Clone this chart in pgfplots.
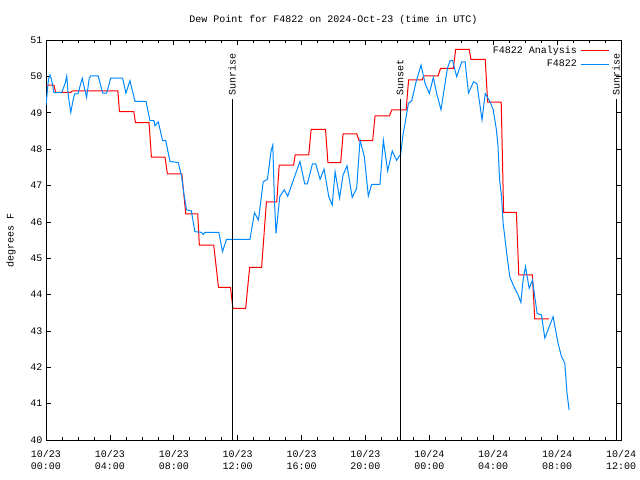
\documentclass[border=0pt]{standalone}
\usepackage{pgfplots}
\pgfplotsset{compat=1.18}
\usepackage{fontspec}
\setmainfont{Liberation Mono}
\definecolor{anred}{RGB}{255,0,0}
\definecolor{obsblue}{RGB}{0,136,255}
\begin{document}
\begin{tikzpicture}[font=\fontsize{10bp}{12bp}\selectfont]
\path[use as bounding box] (0,0) rectangle (640bp,480bp);
\begin{axis}[
  at={(46bp,40bp)}, anchor=south west,
  scale only axis, width=575bp, height=400bp,
  xmin=0, xmax=36, ymin=40, ymax=51,
  xtick={0,4,...,36},
  xticklabels={{10/23\\00:00},{10/23\\04:00},{10/23\\08:00},{10/23\\12:00},{10/23\\16:00},{10/23\\20:00},{10/24\\00:00},{10/24\\04:00},{10/24\\08:00},{10/24\\12:00}},
  xticklabel style={align=center, font=\fontsize{10bp}{12bp}\selectfont, yshift=-7bp},
  minor x tick num=3,
  ytick={40,41,...,51},
  yticklabel style={font=\fontsize{10bp}{12bp}\selectfont},
  /pgf/number format/assume math mode=true,
  tick align=inside,
  major tick length=5bp, minor tick length=3bp,
  axis line style={black, line width=0.8bp},
  tick style={black, line width=0.6bp},
  title={Dew Point for F4822 on 2024-Oct-23 (time in UTC)},
  title style={font=\fontsize{10bp}{12bp}\selectfont, yshift=6bp},
  ylabel={degrees F},
  ylabel style={font=\fontsize{10bp}{12bp}\selectfont, yshift=8bp},
  legend plot pos=right,
  legend cell align=right,
  legend style={draw=none, fill=none, at={(1,1)}, anchor=north east, xshift=-9bp, yshift=-2bp, font=\fontsize{10bp}{12bp}\selectfont, row sep=1bp, inner sep=2bp, nodes={inner xsep=4bp}},
  legend image code/.code={\draw[#1] (0bp,0bp) -- (28bp,0bp);},
  clip=true,
]
\addplot[anred, line width=1bp] coordinates {
(0,49.76) (0.5,49.76) (0.6,49.56) (1.55,49.56) (1.65,49.6) (4.5,49.6) (4.6,49.03) (5.5,49.03) (5.6,48.73) (6.45,48.73) (6.6,47.78) (7.45,47.78) (7.6,47.32) (8.5,47.32) (8.75,46.22) (9.5,46.22) (9.6,45.36) (10.5,45.36) (10.8,44.2) (11.55,44.2) (11.7,43.62) (12.5,43.62) (12.75,44.75) (13.5,44.75) (13.8,46.55) (14.45,46.55) (14.6,47.56) (15.5,47.56) (15.6,47.84) (16.45,47.84) (16.6,48.54) (17.5,48.54) (17.65,47.63) (18.45,47.63) (18.6,48.42) (19.45,48.42) (19.6,48.23) (20.45,48.23) (20.6,48.91) (21.5,48.91) (21.65,49.08) (22.55,49.08) (22.7,49.9) (23.55,49.9) (23.65,50.01) (24.55,50.01) (24.7,50.22) (25.5,50.22) (25.65,50.74) (26.5,50.74) (26.6,50.47) (27.5,50.47) (27.65,49.29) (28.5,49.29) (28.65,46.26) (29.45,46.26) (29.6,44.54) (30.45,44.54) (30.6,43.33) (31.5,43.33)
};
\addlegendentry{F4822 Analysis}
\addplot[obsblue, line width=1bp] coordinates {
(0.0,49.21) (0.15,49.9) (0.25,50.04) (0.35,49.9) (0.5,49.55) (0.98,49.55) (1.2,49.81) (1.3,50.01) (1.4,49.45) (1.55,49.01) (1.72,49.4) (1.8,49.52) (2.0,49.52) (2.27,49.95) (2.54,49.42) (2.71,49.95) (2.8,50.01) (3.27,50.01) (3.55,49.54) (3.8,49.54) (4.05,49.95) (4.8,49.95) (5.0,49.54) (5.26,49.88) (5.57,49.31) (6.26,49.31) (6.51,48.78) (6.76,48.78) (6.82,48.64) (7.03,48.75) (7.3,48.23) (7.5,48.23) (7.76,47.66) (8.28,47.63) (8.49,47.25) (8.63,46.78) (8.8,46.33) (9.1,46.3) (9.32,45.73) (9.74,45.71) (9.84,45.65) (9.95,45.71) (10.82,45.71) (11.05,45.18) (11.3,45.52) (12.77,45.52) (13.05,46.25) (13.3,46.05) (13.6,47.1) (13.86,47.17) (14.1,47.97) (14.2,48.11) (14.3,46.6) (14.4,45.68) (14.64,46.7) (14.92,46.88) (15.13,46.7) (15.9,47.66) (16.2,47.04) (16.36,47.04) (16.68,47.59) (16.89,47.59) (17.16,47.17) (17.41,47.45) (17.7,46.7) (17.92,46.46) (18.1,47.38) (18.38,46.65) (18.6,47.29) (18.85,47.54) (19.17,46.67) (19.45,46.92) (19.66,48.25) (19.93,47.79) (20.18,46.71) (20.39,47.03) (20.91,47.03) (21.12,48.25) (21.39,47.4) (21.68,47.95) (21.95,47.69) (22.1,47.8) (22.2,47.84) (22.35,48.4) (22.48,48.71) (22.69,49.26) (22.9,49.33) (23.17,49.85) (23.48,50.31) (23.73,49.81) (24.0,49.53) (24.25,49.97) (24.46,49.53) (24.73,49.08) (25.13,50.22) (25.3,50.43) (25.46,50.43) (25.71,49.99) (26.03,50.4) (26.24,50.4) (26.45,49.54) (26.77,49.85) (26.98,49.8) (27.3,48.8) (27.5,49.53) (27.8,49.3) (28.0,49.08) (28.2,48.53) (28.3,48.07) (28.4,47.15) (28.52,46.7) (28.62,45.96) (28.72,45.6) (28.87,45.04) (29.04,44.49) (29.25,44.26) (29.56,43.99) (29.73,43.78) (29.87,44.4) (30.02,44.77) (30.25,44.17) (30.46,44.4) (30.6,43.94) (30.75,43.48) (31.02,43.44) (31.23,42.8) (31.75,43.39) (32.06,42.66) (32.27,42.3) (32.48,42.11) (32.62,41.29) (32.75,40.83)
};
\addlegendentry{F4822}
\addplot[black, line width=0.8bp, forget plot] coordinates {(11.65,40) (11.65,49.37)};
\addplot[black, line width=0.8bp, forget plot] coordinates {(22.17,40) (22.17,49.37)};
\addplot[black, line width=0.8bp, forget plot] coordinates {(35.69,40) (35.69,49.37)};
\node[rotate=90, anchor=west, inner sep=1bp] at (axis cs:11.65,49.45) {Sunrise};
\node[rotate=90, anchor=west, inner sep=1bp] at (axis cs:22.17,49.45) {Sunset};
\node[rotate=90, anchor=west, inner sep=1bp] at (axis cs:35.69,49.45) {Sunrise};
\end{axis}
\end{tikzpicture}
\end{document}
